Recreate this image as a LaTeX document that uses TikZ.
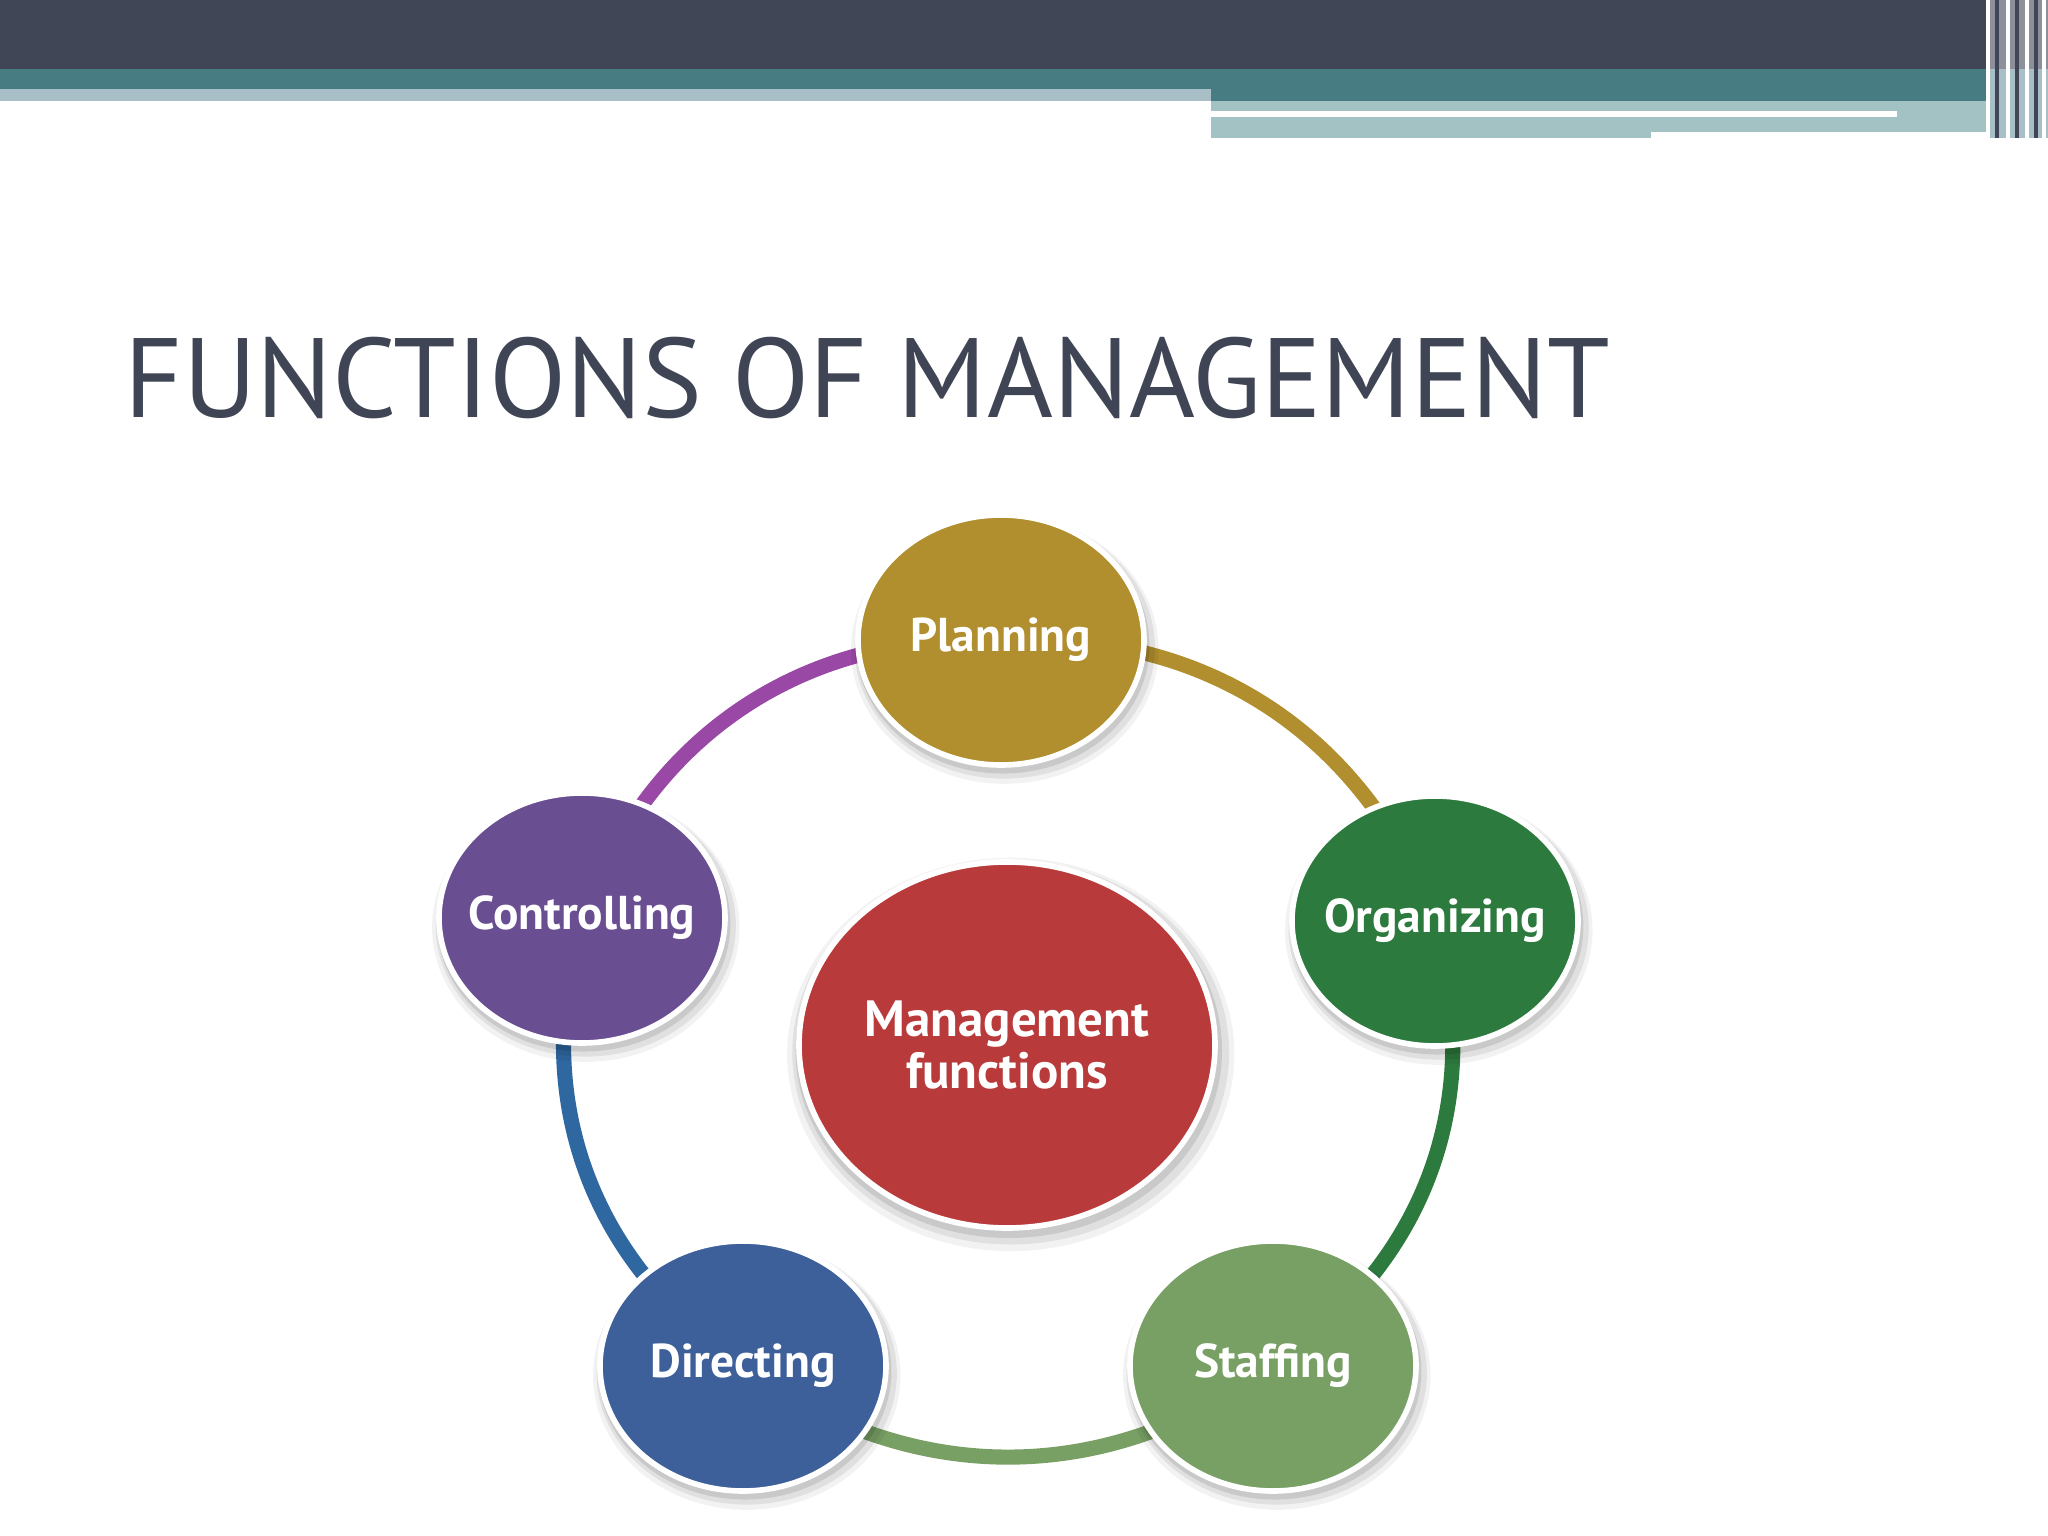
\documentclass[tikz,border=0pt]{standalone}
\usepackage{fontspec}
\newfontfamily\titlefont{PT Sans}
\newfontfamily\labelfont{PT Sans}
\usepackage{tikz}
\usetikzlibrary{positioning,calc,shapes.geometric,shadows,backgrounds}

\definecolor{barDark}{HTML}{414656}
\definecolor{barTeal}{HTML}{467C82}
\definecolor{barGrey}{HTML}{A9BFC8}
\definecolor{barLight}{HTML}{A2C2C3}
\definecolor{titleGrey}{HTML}{404555}
\definecolor{planGold}{HTML}{B18F2F}
\definecolor{orgGreen}{HTML}{2D7A3E}
\definecolor{staffGreen}{HTML}{78A065}
\definecolor{dirBlue}{HTML}{3D5F9A}
\definecolor{dirArc}{HTML}{2F67A0}
\definecolor{ctrlPurple}{HTML}{6A4E92}
\definecolor{ctrlArc}{HTML}{9A48A6}
\definecolor{mgmtRed}{HTML}{B83A3A}

\newcommand{\fname}[1]{\makebox[0pt]{#1}}

\begin{document}
\begin{tikzpicture}[
	glow/.style={
		general shadow={fill=black, opacity=.05, shadow scale=1.075, shadow yshift=-2.5pt, shadow xshift=1pt},
		general shadow={fill=black, opacity=.07, shadow scale=1.05, shadow yshift=-2pt, shadow xshift=1pt},
		general shadow={fill=black, opacity=.10, shadow scale=1.025, shadow yshift=-1.5pt, shadow xshift=.5pt}},
	func/.style={ellipse, draw=white, line width=1.6pt, minimum width=2.86cm,
		minimum height=2.5cm, inner sep=0pt, text=white, glow,
		font=\labelfont\bfseries\fontsize{13.5}{15}\selectfont},
	ring/.style={line width=4.3pt}]
	
	\useasboundingbox (0,0) rectangle (20.48,-15.36);
	\begin{scope}[on background layer]
		\fill[white] (0,0) rectangle (20.48,-15.36);
	\end{scope}
	
	% Header bars
	\fill[barDark] (0,0) rectangle (20.48,-0.69);
	\fill[barTeal] (0,-0.69) rectangle (12.11,-0.89);
	\fill[barGrey] (0,-0.89) rectangle (12.11,-1.01);
	\fill[barTeal] (12.11,-0.69) rectangle (19.90,-1.01);
	\fill[barLight] (12.11,-1.01) rectangle (20.09,-1.32);
	\fill[barLight] (12.11,-1.32) rectangle (16.51,-1.38);
	\fill[white] (12.11,-1.11) rectangle (18.97,-1.175);
	\fill[barDark!60!white] (19.88,0) rectangle (20.48,-0.69);
	\fill[barGrey] (19.88,-0.69) rectangle (20.48,-1.38);
	\foreach \x/\c in {19.88/white, 19.97/barDark, 20.08/white, 20.17/barDark, 20.27/white, 20.36/barDark, 20.44/white}
		\draw[\c, line width=0.9pt] (\x,0) -- (\x,-1.38);
	
	% Title
	\node[anchor=base west, inner sep=0, text=titleGrey,
	font=\titlefont\fontsize{32.1}{40}\selectfont] (title) at (1.24,-4.18) {FUNCTIONS OF MANAGEMENT};
	
	% Centre
	\node[func, fill=mgmtRed, minimum width=4.16cm, minimum height=3.66cm, align=center,
	font=\labelfont\bfseries\fontsize{14.5}{14.8}\selectfont] (mgmt) at (10.07,-10.45) {Management\\functions};
	
	% Functions round the ring
	\node[func, fill=planGold] (plan) at ($(mgmt) + (-0.06,4.05)$) {\fname{Planning}};
	\node[func, fill=orgGreen] (org) at ($(mgmt) + (4.28,1.24)$) {\fname{Organizing}};
	\node[func, fill=staffGreen] (staff) at ($(mgmt) + (2.66,-3.21)$) {\fname{Staffing}};
	\node[func, fill=dirBlue] (dir) at ($(mgmt) + (-2.64,-3.21)$) {\fname{Directing}};
	\node[func, fill=ctrlPurple] (ctrl) at ($(mgmt) + (-4.25,1.27)$) {\fname{Controlling}};
	
	% Ring
	\begin{scope}[on background layer]
		\draw[ring, draw=planGold] (plan.center) to[bend left=36] (org.center);
		\draw[ring, draw=orgGreen] (org.center) to[bend left=36] (staff.center);
		\draw[ring, draw=staffGreen] (staff.center) to[bend left=36] (dir.center);
		\draw[ring, draw=dirArc] (dir.center) to[bend left=36] (ctrl.center);
		\draw[ring, draw=ctrlArc] (ctrl.center) to[bend left=36] (plan.center);
	\end{scope}
\end{tikzpicture}
\end{document}
